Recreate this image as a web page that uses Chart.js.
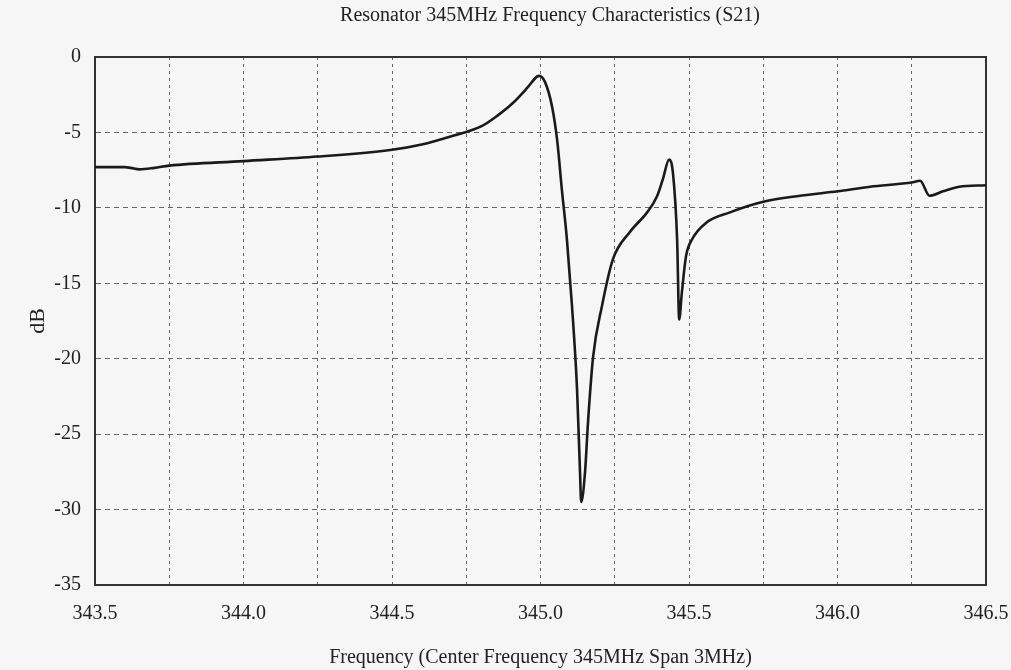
<!DOCTYPE html>
<html lang="en">
  <head>
    <meta charset="UTF-8">
    <script src="https://cdn.jsdelivr.net/npm/chart.js"></script>
    <title>Resonator S21</title>
    <style>
      html, body{margin: 0; padding: 0; background: #f6f6f6;}
      #wrap{width: 1011px; height: 670px;}
    </style>
  </head>
  <body>
    <div id="wrap">
      <canvas id="myChart"></canvas>
    </div>
    <script>
      const freqMHz = [343.50, 343.60, 343.62, 343.65, 343.70, 343.75, 344.00, 344.25, 344.50, 344.60,
        344.70, 344.80, 344.854, 344.907, 344.955, 344.988, 344.995, 345.015, 345.039, 345.056,
        345.072, 345.089, 345.106, 345.123, 345.133, 345.137, 345.150, 345.160, 345.177, 345.207,
        345.244, 345.301, 345.359, 345.392, 345.412, 345.433, 345.446, 345.460, 345.467, 345.476,
        345.490, 345.510, 345.557, 345.638, 345.750, 345.874, 346.000, 346.110, 346.254, 346.278,
        346.310, 346.355, 346.410, 346.500];
      const s21dB = [-7.3, -7.3, -7.35, -7.45, -7.35, -7.2, -6.9, -6.6, -6.15, -5.8,
        -5.25, -4.6, -3.9, -3.05, -2.05, -1.3, -1.25, -1.65, -3.3, -5.5,
        -8.8, -12.1, -16.5, -22.0, -27.5, -29.5, -27.5, -24.2, -19.9, -16.5,
        -13.4, -11.6, -10.3, -9.25, -8.1, -6.8, -7.7, -12.1, -17.4, -15.6,
        -13.2, -12.1, -11.0, -10.3, -9.6, -9.2, -8.9, -8.6, -8.3, -8.2,
        -9.2, -8.9, -8.6, -8.5];
      const xTicks = [343.5, 344.0, 344.5, 345.0, 345.5, 346.0, 346.5];
      const yTicks = [0, -5, -10, -15, -20, -25, -30, -35];
      const chartTitle = 'Resonator 345MHz Frequency Characteristics (S21)';

      const points = freqMHz.map(function(f, i){ return {x: f, y: s21dB[i]}; });
      const serif = "'Liberation Serif', 'DejaVu Serif', serif";

      new Chart(document.getElementById('myChart'), {
        type: 'scatter',
        data: {
          datasets: [{
            label: 'S21',
            data: points,
            showLine: true,
            borderColor: '#1a1a1a',
            borderWidth: 2.6,
            pointRadius: 0,
            cubicInterpolationMode: 'monotone'
          }]
        },
        options: {
          responsive: true,
          maintainAspectRatio: false,
          animation: false,
          layout: {padding: {left: 0, right: 25, top: 57, bottom: 0}},
          plugins: {
            legend: {display: false},
            tooltip: {enabled: false},
            title: {display: false}
          },
          scales: {
            x: {
              type: 'linear',
              min: 343.5,
              max: 346.5,
              afterBuildTicks: function(scale){
                // 0.25 간격 그리드, 라벨은 0.5 마다
                const t = [];
                for(let i = 0; i <= 12; i++) t.push({value: 343.5 + i * 0.25});
                scale.ticks = t;
              },
              afterFit: function(scale){
                scale.height = 85;
                scale.paddingRight = 0;
              },
              ticks: {
                color: '#222',
                font: {family: serif, size: 20},
                padding: 17,
                maxRotation: 0,
                autoSkip: false,
                callback: function(v){
                  const hit = xTicks.find(function(t){ return Math.abs(t - v) < 1e-6; });
                  return hit !== undefined ? hit.toFixed(1) : '';
                }
              },
              grid: {
                color: '#666',
                lineWidth: 1,
                drawTicks: false
              },
              border: {display: true, color: '#333', width: 2, dash: [3, 4]},
              title: {
                display: true,
                text: 'Frequency (Center Frequency 345MHz Span 3MHz)',
                color: '#222',
                font: {family: serif, size: 20},
                padding: {top: 0, bottom: 0}
              }
            },
            y: {
              min: -35,
              max: 0,
              afterBuildTicks: function(scale){
                scale.ticks = yTicks.map(function(v){ return {value: v}; });
              },
              afterFit: function(scale){ scale.width = 95; },
              ticks: {
                color: '#222',
                font: {family: serif, size: 20},
                padding: 14
              },
              grid: {
                color: '#666',
                lineWidth: 1,
                drawTicks: false
              },
              border: {display: true, color: '#333', width: 2, dash: [5, 4]},
              title: {
                display: true,
                text: 'dB',
                color: '#222',
                font: {family: serif, size: 22},
                padding: {top: 25, bottom: 0}
              }
            }
          }
        },
        plugins: [{
          // 배경, 제목, 실선 테두리
          id: 'frame',
          beforeDraw: function(chart){
            const c = chart.ctx;
            c.save();
            c.fillStyle = '#f6f6f6';
            c.fillRect(0, 0, chart.width, chart.height);
            c.restore();
          },
          beforeDatasetsDraw: function(chart){
            const a = chart.chartArea, c = chart.ctx;
            c.save();
            c.strokeStyle = '#333';
            c.lineWidth = 2;
            c.setLineDash([]);
            c.strokeRect(a.left, a.top, a.right - a.left, a.bottom - a.top);
            c.restore();
          },
          afterDraw: function(chart){
            const c = chart.ctx;
            c.save();
            c.fillStyle = '#222';
            c.font = '20px ' + serif;
            c.textAlign = 'center';
            c.textBaseline = 'middle';
            c.fillText(chartTitle, 550, 16);
            c.restore();
          }
        }]
      });
    </script>
  </body>
</html>
